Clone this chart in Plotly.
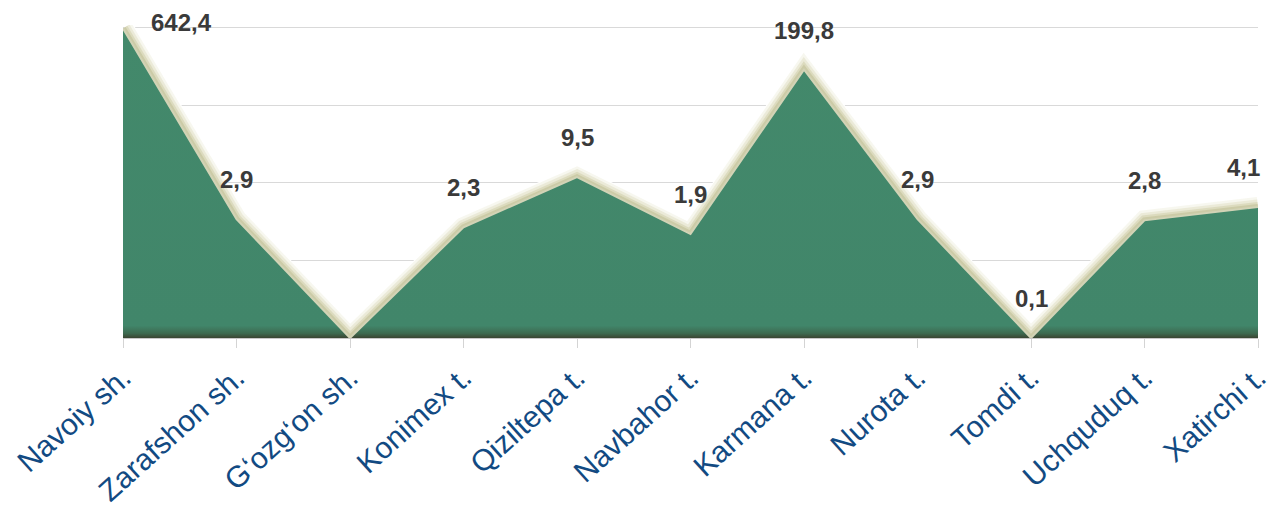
import math
import plotly.graph_objects as go

# District names (x categories)
districts = [
    "Navoiy sh.", "Zarafshon sh.", "G\u2018ozg\u2018on sh.", "Konimex t.",
    "Qiziltepa t.", "Navbahor t.", "Karmana t.", "Nurota t.",
    "Tomdi t.", "Uchquduq t.", "Xatirchi t.",
]
# Values per district
values = [642.4, 2.9, 0.1, 2.3, 9.5, 1.9, 199.8, 2.9, 0.1, 2.8, 4.1]
# Which points carry a value label
show_label = [True, True, False, True, True, True, True, True, True, True, True]


def fmt(v):
    return f"{v:.1f}".replace(".", ",")


fig = go.Figure()

# soft cream halo along the upper edge of the area (drawn over the grid)
halo = [
    (22, "rgba(255,255,255,1)"),
    (20, "rgba(238,237,220,0.45)"),
    (15, "rgba(224,222,194,0.5)"),
    (10, "rgba(208,206,170,0.55)"),
    (6, "rgba(194,192,152,0.6)"),
]
for width, color in halo:
    fig.add_trace(go.Scatter(
        x=districts, y=values, mode="lines",
        line=dict(color=color, width=width),
        hoverinfo="skip", showlegend=False,
    ))

# filled area with darker band at its base
fig.add_trace(go.Scatter(
    x=districts, y=values, mode="lines",
    line=dict(color="#d2d3b6", width=2),
    fill="tozeroy",
    fillgradient=dict(
        type="vertical",
        colorscale=[[0, "#3a4532"], [0.015, "#3d6a50"], [0.04, "#41866a"], [1, "#43896b"]],
        start=0.1, stop=642.4,
    ),
    showlegend=False,
))

annotations = []
last = len(values) - 1
for i, (name, v, show) in enumerate(zip(districts, values, show_label)):
    if not show:
        continue
    ann = dict(
        x=i, y=math.log10(v), xref="x", yref="y",
        text=f"<b>{fmt(v)}</b>", showarrow=False,
        font=dict(family="Liberation Sans, Arial, sans-serif", size=24, color="#3a3a3a"),
        yanchor="bottom", yshift=24,
    )
    if i == 0:
        ann.update(xanchor="left", xshift=26, yanchor="middle", yshift=6)
    elif i == last:
        ann.update(xanchor="right", xshift=4)
    annotations.append(ann)

fig.update_layout(
    width=1280, height=517,
    margin=dict(l=123, r=8, t=25, b=179),
    paper_bgcolor="white", plot_bgcolor="white",
    annotations=annotations,
    xaxis=dict(
        type="category", range=[0, len(districts) - 1],
        showgrid=False, showline=True, linecolor="#c8c8c8", linewidth=1,
        ticks="outside", ticklen=9, tickcolor="#d4d4d4", tickwidth=1,
        tickangle=-42,
        tickfont=dict(family="Liberation Sans, Arial, sans-serif", size=30, color="#124a82"),
    ),
    yaxis=dict(
        type="log", range=[-1, 2.85], tick0=-1, dtick=0.955,
        showticklabels=False, showgrid=True, gridcolor="#d9d9d9", gridwidth=1,
        zeroline=False, showline=False, ticks="",
    ),
)

fig.write_html("out.html")
